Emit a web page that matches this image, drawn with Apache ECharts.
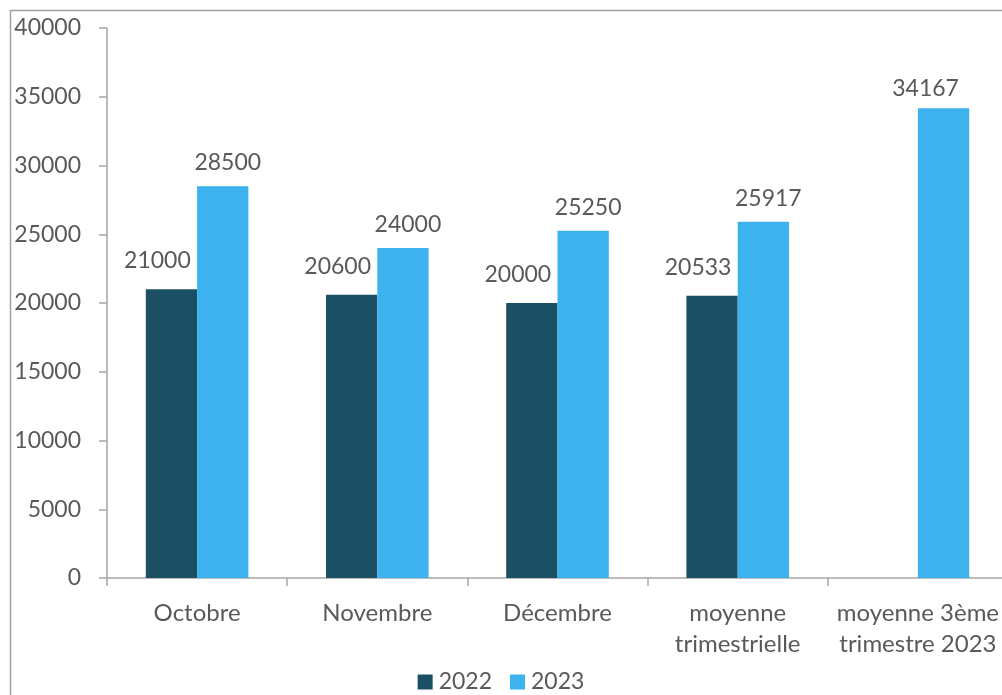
<!DOCTYPE html>
<html>
<head>
<meta charset="utf-8">
<style>
  html, body { margin: 0; padding: 0; background: #ffffff; }
  #chart { width: 1002px; height: 695px; }
</style>
<script src="https://cdn.jsdelivr.net/npm/echarts@6/dist/echarts.min.js"></script>
</head>
<body>
<div id="chart"></div>
<script>
const categories = ['Octobre', 'Novembre', 'Décembre', 'moyenne\ntrimestrielle', 'moyenne 3ème\ntrimestre 2023'];
const seriesNames = ['2022', '2023'];
const values2022 = [21000, 20600, 20000, 20533, null];
const values2023 = [28500, 24000, 25250, 25917, 34167];
const yTicks = { min: 0, max: 40000, interval: 5000 };

const FONT = 'Lato';
const TEXT = '#595959';
const AXIS = '#a6a6a6';

const chart = echarts.init(document.getElementById('chart'), null, { renderer: 'canvas' });

const labelBase = {
  show: true,
  position: 'top',
  fontFamily: FONT,
  fontSize: 23,
  color: TEXT
};

// In the reference, the label of a bar standing alone in its category sits centred-left over it.
function buildData(values, other) {
  return values.map(function (v, i) {
    if (v != null && other[i] == null) {
      return { value: v, label: { offset: [-18, 4] } };
    }
    return v;
  });
}

chart.setOption({
  animation: false,
  backgroundColor: '#ffffff',
  textStyle: { fontFamily: FONT },
  graphic: [{
    type: 'rect',
    shape: { x: 10.5, y: 10.5, width: 1200, height: 1000 },
    style: { fill: 'none', stroke: '#a0a0a0', lineWidth: 1.5 },
    silent: true
  }],
  grid: { left: 107, width: 901, top: 28, bottom: 117, containLabel: false, outerBoundsMode: 'none' },
  legend: {
    data: seriesNames,
    left: 'center',
    top: 665,
    itemWidth: 15,
    itemHeight: 15,
    itemGap: 18,
    icon: 'rect',
    textStyle: { fontFamily: FONT, fontSize: 23, color: TEXT, lineHeight: 24, padding: [0, 0, 0, 1] }
  },
  xAxis: {
    type: 'category',
    data: categories,
    axisLine: { show: true, lineStyle: { color: AXIS, width: 1.5 } },
    axisTick: { show: true, length: 8, lineStyle: { color: AXIS, width: 1.5 } },
    axisLabel: { fontFamily: FONT, fontSize: 24, color: TEXT, lineHeight: 31, margin: 20, interval: 0 }
  },
  yAxis: {
    type: 'value',
    min: yTicks.min,
    max: yTicks.max,
    interval: yTicks.interval,
    splitLine: { show: false },
    axisLine: { show: true, lineStyle: { color: AXIS, width: 1.5 } },
    axisTick: { show: true, length: 8, lineStyle: { color: AXIS, width: 1.5 } },
    axisLabel: { fontFamily: FONT, fontSize: 23, color: TEXT, margin: 26, formatter: function (v) { return String(v); } }
  },
  series: [
    {
      name: seriesNames[0],
      type: 'bar',
      data: buildData(values2022, values2023),
      barWidth: 51.3,
      barGap: '0%',
      itemStyle: { color: '#1b4f63' },
      label: Object.assign({}, labelBase, { distance: 17, offset: [-14, 0] })
    },
    {
      name: seriesNames[1],
      type: 'bar',
      data: buildData(values2023, values2022),
      barWidth: 51.3,
      barGap: '0%',
      itemStyle: { color: '#3cb3ee' },
      label: Object.assign({}, labelBase, { distance: 12, offset: [5, 0] })
    }
  ]
});
</script>
</body>
</html>
